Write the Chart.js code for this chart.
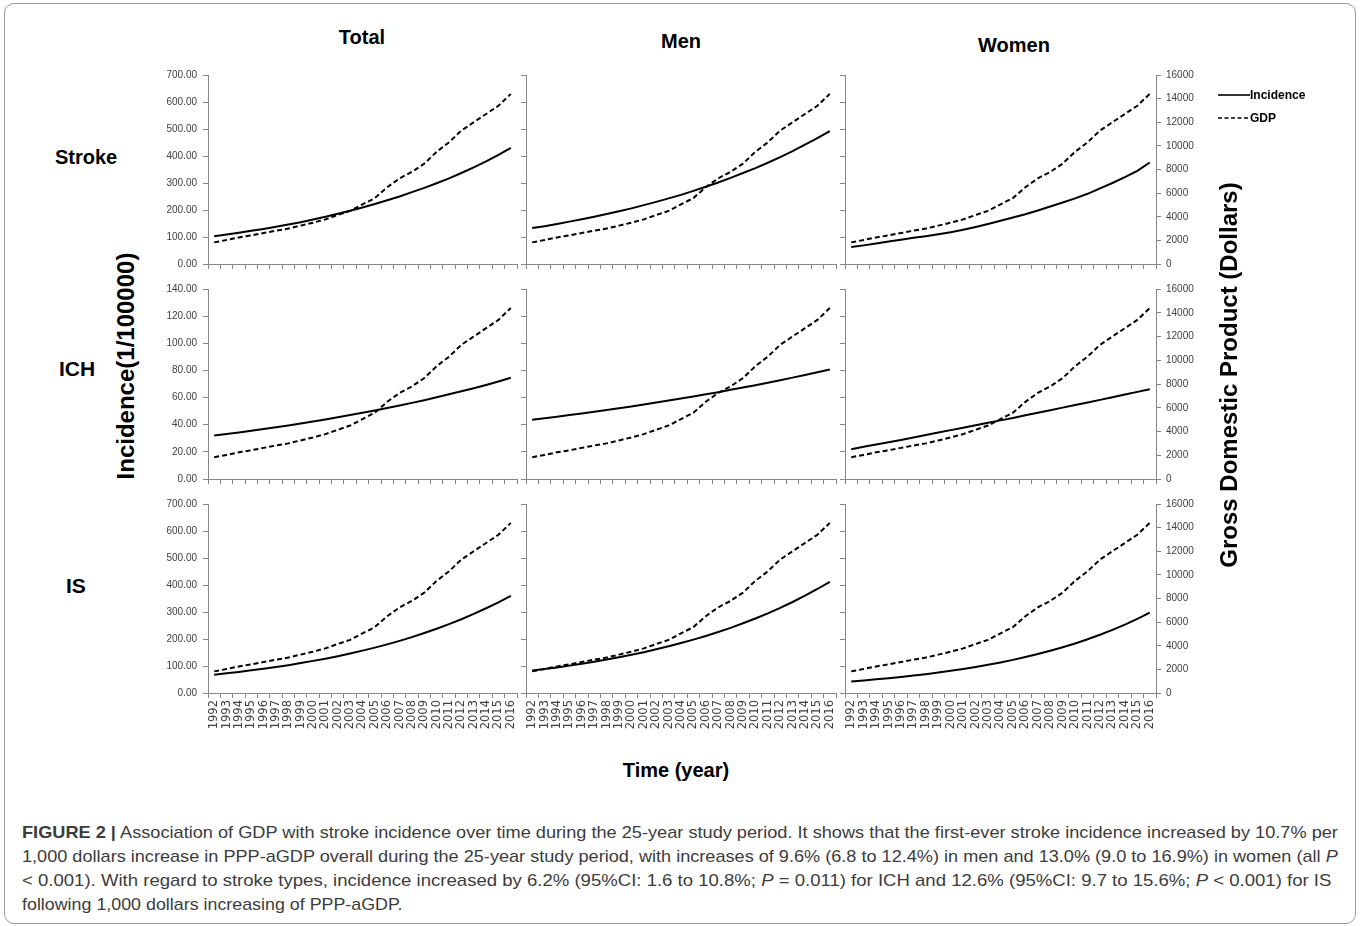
<!DOCTYPE html>
<html><head><meta charset="utf-8">
<script src="https://cdn.jsdelivr.net/npm/chart.js@4.4.0/dist/chart.umd.min.js"></script>
<style>
html,body{margin:0;padding:0;background:#fff;width:1360px;height:926px;overflow:hidden;font-family:"Liberation Sans",Arial,sans-serif;}
.wrap{position:absolute;}
.lbl{position:absolute;font-weight:bold;color:#000;white-space:nowrap;line-height:1;}
.cap{position:absolute;left:22px;white-space:nowrap;font-size:17px;color:#3c3c3c;transform-origin:0 50%;line-height:1;}
</style></head><body>
<div style="position:absolute;left:4px;top:3px;width:1350px;height:919px;border:1px solid #9a9a9a;border-radius:10px;"></div>
<div id="panels"></div>

<div class="lbl" style="left:362px;top:37px;font-size:20px;transform:translate(-50%,-50%);">Total</div>
<div class="lbl" style="left:681px;top:41px;font-size:20px;transform:translate(-50%,-50%);">Men</div>
<div class="lbl" style="left:1014px;top:45px;font-size:20px;transform:translate(-50%,-50%);">Women</div>
<div class="lbl" style="left:55px;top:157px;font-size:20px;transform:translateY(-50%);">Stroke</div>
<div class="lbl" style="left:59px;top:368px;font-size:21px;transform:translateY(-50%);">ICH</div>
<div class="lbl" style="left:66px;top:585px;font-size:21px;transform:translateY(-50%);">IS</div>
<div class="lbl" style="left:126px;top:366px;font-size:24px;transform:translate(-50%,-50%) rotate(-90deg);">Incidence(1/100000)</div>
<div class="lbl" style="left:1229px;top:375px;font-size:24px;transform:translate(-50%,-50%) rotate(-90deg);">Gross Domestic Product (Dollars)</div>
<div class="lbl" style="left:676px;top:770px;font-size:20px;transform:translate(-50%,-50%);">Time (year)</div>

<svg style="position:absolute;left:1214px;top:85px;" width="40" height="40">
<line x1="4" y1="10" x2="36" y2="10" stroke="#000" stroke-width="1.6"/>
<line x1="4" y1="33" x2="35" y2="33" stroke="#000" stroke-width="1.6" stroke-dasharray="4,2.5"/>
</svg>
<div class="lbl" style="left:1250px;top:95px;font-size:12px;transform:translateY(-50%);">Incidence</div>
<div class="lbl" style="left:1250px;top:118px;font-size:12px;transform:translateY(-50%);">GDP</div>

<div class="cap" data-w="1316" style="top:832px;transform:translateY(-50%);"><b>FIGURE 2 |</b> Association of GDP with stroke incidence over time during the 25-year study period. It shows that the first-ever stroke incidence increased by 10.7% per</div>
<div class="cap" data-w="1316" style="top:856px;transform:translateY(-50%);">1,000 dollars increase in PPP-aGDP overall during the 25-year study period, with increases of 9.6% (6.8 to 12.4%) in men and 13.0% (9.0 to 16.9%) in women (all <i>P</i></div>
<div class="cap" data-w="1309" style="top:880px;transform:translateY(-50%);">&lt; 0.001). With regard to stroke types, incidence increased by 6.2% (95%CI: 1.6 to 10.8%; <i>P</i> = 0.011) for ICH and 12.6% (95%CI: 9.7 to 15.6%; <i>P</i> &lt; 0.001) for IS</div>
<div class="cap" data-w="381" style="top:904px;transform:translateY(-50%);">following 1,000 dollars increasing of PPP-aGDP.</div>

<script>
const years = ['1992','1993','1994','1995','1996','1997','1998','1999','2000','2001','2002','2003','2004','2005','2006','2007','2008','2009','2010','2011','2012','2013','2014','2015','2016'];

const gdp = [1830,2030,2250,2420,2620,2820,3000,3250,3500,3780,4150,4500,5050,5580,6500,7250,7800,8500,9500,10300,11300,12000,12700,13400,14400];

const strokeTotal = [103,109,116,123,130,138,146,155,165,175,186,197,209,222,236,250,266,282,299,317,337,358,380,404,430];
const strokeMen   = [133,140,148,157,166,175,185,195,206,218,230,243,256,271,286,302,319,337,355,375,396,418,442,466,492];
const strokeWomen = [63,69,76,83,90,97,103,110,118,127,137,148,160,172,184,198,213,228,243,260,280,300,322,345,376];

const ichTotal = [32.0,33.1,34.3,35.5,36.8,38.1,39.5,40.9,42.4,43.9,45.5,47.1,48.8,50.5,52.3,54.2,56.1,58.1,60.2,62.4,64.6,66.9,69.3,71.9,74.6];
const ichMen   = [43.6,44.7,45.9,47.1,48.3,49.6,50.9,52.2,53.5,54.9,56.3,57.8,59.3,60.8,62.4,64.0,65.7,67.4,69.1,70.9,72.8,74.7,76.6,78.6,80.7];
const ichWomen = [22.0,23.7,25.4,27.1,28.8,30.6,32.4,34.2,36.0,37.8,39.6,41.4,43.2,45.0,46.9,48.8,50.7,52.6,54.5,56.4,58.3,60.3,62.3,64.2,66.2];

const isTotal = [68,73,78,84,90,96,103,111,119,127,136,146,157,168,180,193,207,222,238,255,273,293,314,336,360];
const isMen   = [83,88.7,94.8,101.4,108.4,115.9,123.9,132.4,141.6,151.3,161.8,172.9,184.9,197.6,211.3,225.8,241.4,258.1,275.9,294.9,315.3,337.0,360.3,385.2,411.8];
const isWomen = [43,46.6,50.5,54.8,59.4,64.4,69.8,75.6,82.0,88.9,96.3,104.4,113.2,122.7,133.0,144.2,156.3,169.4,183.6,199.0,215.8,233.9,253.5,274.8,297.9];

const incidenceMax  = [700, 140, 700];
const incidenceStep = [100, 20, 100];
const gdpMax = 16000, gdpStep = 2000;

const panelData = [
  [strokeTotal, strokeMen, strokeWomen],
  [ichTotal, ichMen, ichWomen],
  [isTotal, isMen, isWomen]
];

const colBounds = [[208,517],[526,836],[845,1156]];
const rowBounds = [[75,264],[289,479],[504,693]];

const AX = '#868686', TXT = '#404040';
const FONT = {family:'"Liberation Sans", Arial, sans-serif', size:10};
const XFONT = {family:'"DejaVu Sans", sans-serif', size:11.5};

function makePanel(r, c, data) {
  const [l, rr] = colBounds[c];
  const [t, b] = rowBounds[r];
  const PADL = 60, PADR = 60, PADT = 12, XH = 50;
  const w = (rr - l) + PADL + PADR, h = (b - t) + PADT + XH;
  const div = document.createElement('div');
  div.className = 'wrap';
  div.style.left = (l - PADL) + 'px';
  div.style.top = (t - PADT) + 'px';
  div.style.width = w + 'px';
  div.style.height = h + 'px';
  const cv = document.createElement('canvas');
  cv.width = w; cv.height = h;
  cv.style.width = w + 'px'; cv.style.height = h + 'px';
  div.appendChild(cv);
  document.getElementById('panels').appendChild(div);
  const showRight = (c === 2);
  new Chart(cv, {
    type: 'line',
    data: {
      labels: years,
      datasets: [
        {label:'Incidence', data:data, yAxisID:'y', borderColor:'#000', borderWidth:2, pointRadius:0, tension:0, fill:false},
        {label:'GDP', data:gdp, yAxisID:'y2', borderColor:'#000', borderWidth:2, borderDash:[5,3], pointRadius:0, tension:0, fill:false}
      ]
    },
    options: {
      responsive:false, animation:false, devicePixelRatio:1,
      layout:{padding:{top:PADT, right:(showRight ? 0 : PADR), left:0, bottom:0}},
      plugins:{legend:{display:false}, tooltip:{enabled:false}},
      scales:{
        x:{
          type:'category', offset:true,
          grid:{display:true, offset:true, drawOnChartArea:false, drawTicks:true, tickLength:5, color:AX, tickColor:AX},
          border:{display:true, color:AX, width:1},
          ticks:{display:(r===2), autoSkip:false, minRotation:90, maxRotation:90, padding:2, color:TXT, font:XFONT},
          afterFit(s){ s.height = XH; }
        },
        y:{
          position:'left', min:0, max:incidenceMax[r],
          grid:{display:true, drawOnChartArea:false, drawTicks:true, tickLength:5, color:AX, tickColor:AX},
          border:{display:true, color:AX, width:1},
          ticks:{display:(c===0), stepSize:incidenceStep[r], padding:6, color:TXT, font:FONT,
                 callback:(v)=>Number(v).toFixed(2)},
          afterFit(s){ s.width = PADL; }
        },
        y2:{
          position:'right', display:showRight, min:0, max:gdpMax,
          grid:{display:true, drawOnChartArea:false, drawTicks:true, tickLength:5, color:AX, tickColor:AX},
          border:{display:true, color:AX, width:1},
          ticks:{stepSize:gdpStep, padding:5, color:TXT, font:FONT, callback:(v)=>String(v)},
          afterFit(s){ s.width = showRight ? PADR : 0; }
        }
      }
    }
  });
}

for (let r = 0; r < 3; r++) for (let c = 0; c < 3; c++) makePanel(r, c, panelData[r][c]);

document.querySelectorAll('.cap').forEach(el => {
  const target = parseFloat(el.dataset.w);
  const actual = el.scrollWidth;
  el.style.transform = 'translateY(-50%) scaleX(' + (target / actual) + ')';
});
</script>
</body></html>
